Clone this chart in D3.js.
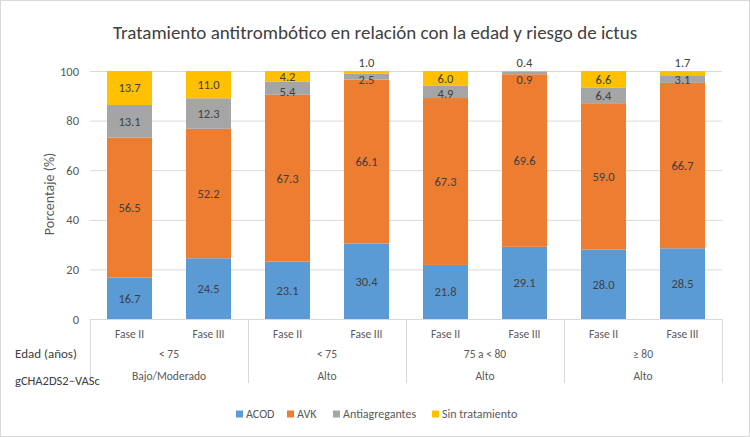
<!DOCTYPE html>
<html>
<head>
<meta charset="utf-8">
<script src="https://cdn.jsdelivr.net/npm/d3@7"></script>
<style>
  body { margin: 0; background: #fff; }
  svg { display: block; }
</style>
</head>
<body>
<script>
const width = 750;
const height = 437;
const font = "Carlito, Calibri, 'Open Sans', sans-serif";

// data
const fases = ["Fase II", "Fase III", "Fase II", "Fase III", "Fase II", "Fase III", "Fase II", "Fase III"];
const edades = ["< 75", "< 75", "75 a < 80", "\u2265 80"];
const riesgos = ["Bajo/Moderado", "Alto", "Alto", "Alto"];
const seriesNames = ["ACOD", "AVK", "Antiagregantes", "Sin tratamiento"];
const acod = [16.7, 24.5, 23.1, 30.4, 21.8, 29.1, 28.0, 28.5];
const avk = [56.5, 52.2, 67.3, 66.1, 67.3, 69.6, 59.0, 66.7];
const antiagregantes = [13.1, 12.3, 5.4, 2.5, 4.9, 0.9, 6.4, 3.1];
const sinTratamiento = [13.7, 11.0, 4.2, 1.0, 6.0, 0.4, 6.6, 1.7];
const yTicks = [0, 20, 40, 60, 80, 100];
const colors = ["#5B9BD5", "#ED7D31", "#A5A5A5", "#FFC000"];

const margin = { top: 71, right: 28, bottom: 118, left: 90 };
const plotW = width - margin.left - margin.right;
const plotH = height - margin.top - margin.bottom;

const rows = fases.map((f, i) => ({
  key: i,
  ACOD: acod[i],
  AVK: avk[i],
  Antiagregantes: antiagregantes[i],
  "Sin tratamiento": sinTratamiento[i]
}));

const stacked = d3.stack().keys(seriesNames)(rows);

const x = d3.scaleBand()
  .domain(d3.range(fases.length))
  .range([0, plotW])
  .paddingInner(0.43)
  .paddingOuter(0.215);

const y = d3.scaleLinear()
  .domain([0, 100])
  .range([plotH, 0]);

const svg = d3.select("body").append("svg")
  .attr("width", width)
  .attr("height", height)
  .attr("font-family", font);

svg.append("rect")
  .attr("x", 0.5).attr("y", 0.5)
  .attr("width", width - 1).attr("height", height - 1)
  .attr("fill", "#fff")
  .attr("stroke", "#d9d9d9");

svg.append("text")
  .attr("x", width / 2)
  .attr("y", 39)
  .attr("text-anchor", "middle")
  .attr("font-size", 19)
  .attr("fill", "#404040")
  .text("Tratamiento antitrombótico en relación con la edad y riesgo de ictus");

const g = svg.append("g")
  .attr("transform", `translate(${margin.left},${margin.top})`);

// gridlines
g.append("g")
  .selectAll("line")
  .data(yTicks.filter(t => t > 0))
  .join("line")
  .attr("x1", 0)
  .attr("x2", plotW)
  .attr("y1", d => y(d) + 0.5)
  .attr("y2", d => y(d) + 0.5)
  .attr("stroke", "#d9d9d9");

// y axis labels
const yAxis = g.append("g")
  .call(d3.axisLeft(y).tickValues(yTicks).tickSize(0).tickPadding(11));
yAxis.select(".domain").remove();
yAxis.selectAll("text")
  .attr("font-family", font)
  .attr("font-size", 12.5)
  .attr("fill", "#595959");

svg.append("text")
  .attr("transform", `translate(54,${margin.top + plotH / 2 - 1}) rotate(-90)`)
  .attr("text-anchor", "middle")
  .attr("font-size", 14)
  .attr("fill", "#595959")
  .text("Porcentaje (%)");

// bars
const layer = g.append("g")
  .selectAll("g")
  .data(stacked)
  .join("g")
  .attr("fill", (d, i) => colors[i]);

layer.selectAll("rect")
  .data(d => d)
  .join("rect")
  .attr("x", (d, i) => x(i))
  .attr("width", x.bandwidth())
  .attr("y", d => y(d[1]))
  .attr("height", d => y(d[0]) - y(d[1]));

// value labels: centred in the segment, tiny top segments go above the bar
const labels = g.append("g")
  .attr("font-size", 12.5)
  .attr("fill", "#404040")
  .attr("text-anchor", "middle");

fases.forEach((f, i) => {
  const inside = [];
  stacked.forEach((s, si) => {
    const d = s[i];
    const v = d[1] - d[0];
    const item = { v, y: (y(d[0]) + y(d[1])) / 2 };
    if (si === seriesNames.length - 1 && v < 2) {
      item.y = y(100) - 8;
    } else {
      item.y = Math.max(item.y, y(100) + 9);
      inside.push(item);
    }
    labels.append("text").datum(item);
  });
  // keep neighbouring labels in a bar from running into each other
  inside.sort((a, b) => a.y - b.y);
  for (let k = 1; k < inside.length; k++) {
    const gap = inside[k].y - inside[k - 1].y;
    if (gap < 15) {
      const d = (15 - gap) / 2;
      inside[k - 1].y -= d;
      inside[k].y += d;
    }
  }
  labels.selectAll("text")
    .filter(function () { return !this.hasAttribute("x"); })
    .attr("x", x(i) + x.bandwidth() / 2)
    .attr("y", d => d.y)
    .attr("dy", "0.35em")
    .text(d => d3.format(".1f")(d.v));
});

// multi-level category axis
const axisG = g.append("g")
  .attr("transform", `translate(0,${plotH})`);

axisG.append("line")
  .attr("x1", 0).attr("x2", plotW)
  .attr("y1", 0.5).attr("y2", 0.5)
  .attr("stroke", "#d9d9d9");

const groupW = plotW / edades.length;
d3.range(edades.length + 1).forEach(k => {
  axisG.append("line")
    .attr("x1", k * groupW + 0.5).attr("x2", k * groupW + 0.5)
    .attr("y1", 0).attr("y2", 64)
    .attr("stroke", "#d9d9d9");
});

axisG.selectAll(".fase")
  .data(fases)
  .join("text")
  .attr("x", (d, i) => x(i) + x.bandwidth() / 2)
  .attr("y", 19)
  .attr("text-anchor", "middle")
  .attr("font-size", 11.5)
  .attr("fill", "#595959")
  .text(d => d);

axisG.selectAll(".edad")
  .data(edades)
  .join("text")
  .attr("x", (d, i) => (i + 0.5) * groupW)
  .attr("y", 39)
  .attr("text-anchor", "middle")
  .attr("font-size", 11.5)
  .attr("fill", "#595959")
  .text(d => d);

axisG.selectAll(".riesgo")
  .data(riesgos)
  .join("text")
  .attr("x", (d, i) => (i + 0.5) * groupW)
  .attr("y", 61)
  .attr("text-anchor", "middle")
  .attr("font-size", 11.5)
  .attr("fill", "#595959")
  .text(d => d);

svg.append("text")
  .attr("x", 15)
  .attr("y", margin.top + plotH + 39)
  .attr("font-size", 13)
  .attr("fill", "#404040")
  .text("Edad (años)");

svg.append("text")
  .attr("x", 15)
  .attr("y", margin.top + plotH + 66)
  .attr("font-size", 12.5)
  .attr("fill", "#404040")
  .text("gCHA2DS2\u2212VASc");

// legend
const legendX = [236, 287, 333, 432];
const legend = svg.append("g")
  .selectAll("g")
  .data(seriesNames)
  .join("g")
  .attr("transform", (d, i) => `translate(${legendX[i]},414)`);

legend.append("rect")
  .attr("x", 0).attr("y", -3.5)
  .attr("width", 7).attr("height", 7)
  .attr("fill", (d, i) => colors[i]);

legend.append("text")
  .attr("x", 10)
  .attr("dy", "0.35em")
  .attr("font-size", 12)
  .attr("fill", "#595959")
  .text(d => d);
</script>
</body>
</html>
